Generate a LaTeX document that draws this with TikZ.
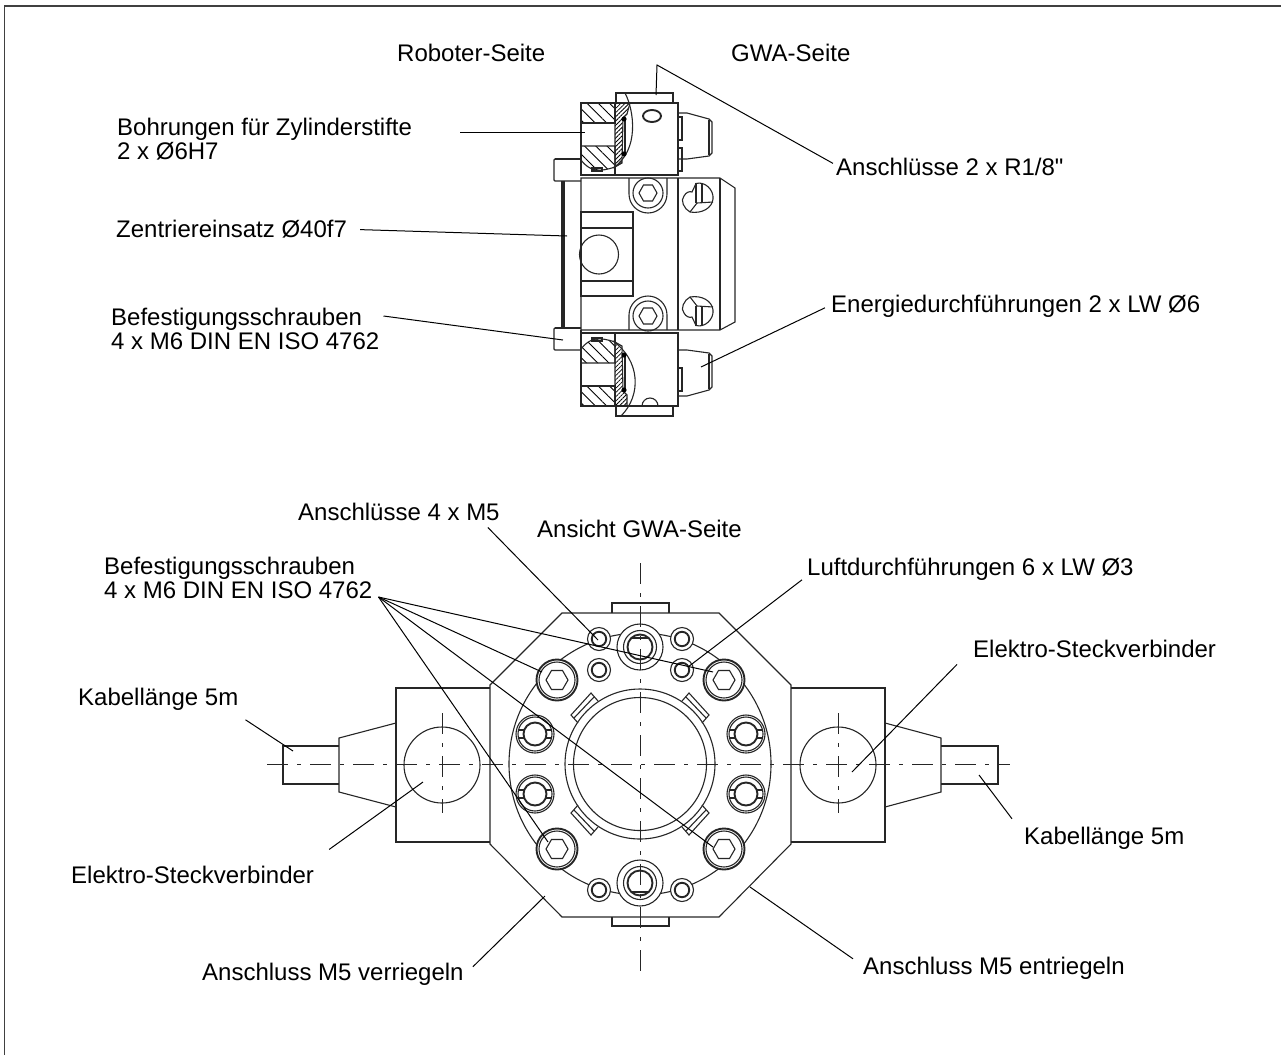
\documentclass[tikz,border=0pt]{standalone}
\usepackage{fontspec}
\setmainfont{Liberation Sans}
\newfontfamily\straightfont{Liberation Sans}
\usetikzlibrary{patterns.meta}
\tikzset{
  part/.style={line width=1.1pt,black!85},
  heavy/.style={line width=1.9pt,black!85},
  leader/.style={line width=1pt,black},
  axis/.style={line width=1pt,black!85,dash pattern=on 21pt off 9pt on 4pt off 9pt},
  label/.style={inner sep=0pt,anchor=base west,align=left,font=\fontsize{24}{24.6}\selectfont},
  twolabel/.style={inner sep=0pt,anchor=west,align=left,font=\fontsize{24}{24.6}\selectfont},
  coarse/.style={pattern={Lines[angle=-45,distance=8pt,line width=.9pt]}},
  fine/.style={pattern={Lines[angle=45,distance=3pt,line width=.8pt]}}
}
\begin{document}
\begin{tikzpicture}[x=1pt,y=-1pt]
\useasboundingbox (0,0) rectangle (1281,1055);

% frame
\draw[line width=1.5pt,black!75] (4.5,1055) -- (4.5,6) -- (1281,6);

% side view, body
\draw[part] (581,178) -- (720,178) -- (735,188) -- (735,322) -- (720,330) -- (581,330) -- cycle;
\draw[part] (678,178) -- (678,330);
\draw[part] (720,178) -- (720,330);
\draw[part] (581,212) rectangle (633,296);
\draw[part] (581,228) -- (633,228);
\draw[part] (581,281) -- (633,281);
\draw[part] (599,254.5) circle [radius=19.5];

% side view, flange and bolt heads
\draw[part] (562,181) -- (562,328);
\draw[heavy] (564,181) -- (564,328);
\draw[part] (581,159) -- (555,159) -- (554,160) -- (554,180) -- (555,181) -- (581,181);
\draw[heavy] (555,159) -- (581,159);
\draw[part] (581,350) -- (555,350) -- (554,349) -- (554,329) -- (555,328) -- (581,328);
\draw[heavy] (555,328) -- (581,328);

% side view, upper block
\draw[part] (581,175) -- (581,103) -- (678,103) -- (678,175) -- cycle;
\draw[part] (616,103) -- (616,93) -- (673,93) -- (673,103);
\draw[part,coarse] (581,103) rectangle (615,123);
\draw[part,coarse] (581,146) -- (615,146) -- (615,167) .. controls (600,172) and (590,172) .. (581,160) -- cycle;
\draw[part,fine] (615,103) -- (630,103) -- (627,114) -- (623,118) -- (622,163) -- (615,167) -- cycle;
\draw[part] (625,93) .. controls (634,110) and (640,150) .. (613,168);
\draw[part] (615,167) -- (615,175);
\draw[part] (625,119) -- (625,154);
\draw[fill=black] (624,119) circle [radius=2.3];
\draw[fill=black] (624,154) circle [radius=2.3];
\draw[part] (592,168) rectangle (602,171);
\draw[heavy] (652,116) ellipse [x radius=9,y radius=6];

% side view, lower block
\draw[part] (581,330) -- (581,406) -- (678,406) -- (678,333) -- (581,333);
\draw[part] (616,406) -- (616,416) -- (673,416) -- (673,406);
\draw[part,coarse] (581,509-103) rectangle (615,509-123);
\draw[part,coarse] (581,509-146) -- (615,509-146) -- (615,509-167) .. controls (600,509-172) and (590,509-172) .. (581,509-160) -- cycle;
\draw[part,fine] (615,509-103) -- (627,509-103) -- (627,509-114) -- (623,509-118) -- (622,509-163) -- (615,509-167) -- cycle;
\draw[part] (621,416) .. controls (642,395) and (640,360) .. (613,509-168);
\draw[part] (615,333) -- (615,342);
\draw[part] (625,509-119) -- (625,509-154);
\draw[fill=black] (624,509-119) circle [radius=2.3];
\draw[fill=black] (624,509-154) circle [radius=2.3];
\draw[part] (592,509-168) rectangle (602,509-171);
\draw[part] (642,406) arc [start angle=180,end angle=360,radius=8];

% side view, nozzles
\draw[part] (679,113) -- (687,113) -- (709,119) -- (712,122) -- (712,153) -- (709,156) -- (687,159) -- (679,159);
\draw[part] (709,120) -- (709,155);
\draw[part] (678,117) rectangle (682,140);
\draw[part] (678,148) rectangle (682,171);
\draw[part] (679,509-113) -- (687,509-113) -- (709,509-119) -- (712,509-122) -- (712,509-153) -- (709,509-156) -- (687,509-159) -- (679,509-159);
\draw[part] (709,509-120) -- (709,509-155);
\draw[part] (678,368) rectangle (682,391);

% side view, screws
\draw[part] (629,178) -- (629,194) arc [start angle=180,end angle=0,radius=19] -- (667,178);
\draw[part] (648,193) circle [radius=15];
\draw[part] (648,193) +(-9,0) -- +(-4.5,-8) -- +(4.5,-8) -- +(9,0) -- +(4.5,8) -- +(-4.5,8) -- cycle;
\draw[part] (629,330) -- (629,315) arc [start angle=180,end angle=360,radius=19] -- (667,330);
\draw[part] (648,316) circle [radius=15];
\draw[part] (648,316) +(-9,0) -- +(-4.5,-8) -- +(4.5,-8) -- +(9,0) -- +(4.5,8) -- +(-4.5,8) -- cycle;

% side view, round plugs
\draw[part] (696,183.5) .. controls (705,181) and (714,190) .. (713,199) .. controls (712,208) and (702,214) .. (690,212) .. controls (684,209) and (680,200) .. (684,196) .. controls (686,192) and (690,191) .. (692,192) -- cycle;
\draw[part] (696,183) -- (696,203);
\draw[part] (702,183) -- (702,202);
\draw[part] (690,212) -- (697,203) -- (713,202);
\draw[part] (696,509-183.5) .. controls (705,509-181) and (714,509-190) .. (713,509-199) .. controls (712,509-208) and (702,509-214) .. (690,509-212) .. controls (684,509-209) and (680,509-200) .. (684,509-196) .. controls (686,509-192) and (690,509-191) .. (692,509-192) -- cycle;
\draw[part] (696,509-183) -- (696,509-203);
\draw[part] (702,509-183) -- (702,509-202);
\draw[part] (690,509-212) -- (697,509-203) -- (713,509-202);

% front view, housing
\draw[part] (562,613) -- (719,613) -- (791,685) -- (791,844) -- (719,917) -- (562,917) -- (490,844) -- (490,685) -- cycle;
\draw[part] (612,613) -- (612,603) -- (669,603) -- (669,613);
\draw[part] (612,917) -- (612,926) -- (669,926) -- (669,917);

% front view, left connector
\draw[part] (490,688) -- (396,688) -- (396,842) -- (490,842);
\draw[heavy] (396,688) -- (417,688);
\draw[heavy] (396,842) -- (417,842);
\draw[part] (396,723) -- (339,738) -- (339,792) -- (396,807);
\draw[part] (339,746) -- (283,746) -- (283,784) -- (339,784);
\draw[part] (442,765) circle [radius=38];

% front view, right connector
\draw[part] (791,688) -- (885,688) -- (885,842) -- (791,842);
\draw[heavy] (885,688) -- (864,688);
\draw[heavy] (885,842) -- (864,842);
\draw[part] (885,723) -- (941,738) -- (941,792) -- (885,807);
\draw[part] (941,746) -- (998,746) -- (998,784) -- (941,784);
\draw[part] (838,765) circle [radius=38];

% front view, flange and inner ring
\draw[part] (640,764) circle [radius=131];
\draw[part] (640,764) circle [radius=75];
\draw[part] (640,764) circle [radius=66.5];

% front view, keys on the ring
\draw[part] (578,723) -- (571,715) -- (591,693) -- (598,701);
\draw[part] (574,718) -- (594,697);
\draw[part] (702,723) -- (709,715) -- (689,693) -- (682,701);
\draw[part] (706,718) -- (686,697);
\draw[part] (578,805) -- (571,813) -- (591,835) -- (598,827);
\draw[part] (574,810) -- (594,831);
\draw[part] (702,805) -- (709,813) -- (689,835) -- (682,827);
\draw[part] (706,810) -- (686,831);

% front view, large bolts
\draw[heavy,fill=white] (557,680) circle [radius=20.5];
\draw[part] (557,680) circle [radius=18];
\draw[part] (557,680) +(-11,0) -- +(-5.5,-9.5) -- +(5.5,-9.5) -- +(11,0) -- +(5.5,9.5) -- +(-5.5,9.5) -- cycle;
\draw[heavy,fill=white] (724,680) circle [radius=20.5];
\draw[part] (724,680) circle [radius=18];
\draw[part] (724,680) +(-11,0) -- +(-5.5,-9.5) -- +(5.5,-9.5) -- +(11,0) -- +(5.5,9.5) -- +(-5.5,9.5) -- cycle;
\draw[heavy,fill=white] (557,849) circle [radius=20.5];
\draw[part] (557,849) circle [radius=18];
\draw[part] (557,849) +(-11,0) -- +(-5.5,-9.5) -- +(5.5,-9.5) -- +(11,0) -- +(5.5,9.5) -- +(-5.5,9.5) -- cycle;
\draw[heavy,fill=white] (724,849) circle [radius=20.5];
\draw[part] (724,849) circle [radius=18];
\draw[part] (724,849) +(-11,0) -- +(-5.5,-9.5) -- +(5.5,-9.5) -- +(11,0) -- +(5.5,9.5) -- +(-5.5,9.5) -- cycle;

% front view, locking bolts
\draw[part,fill=white] (535,734) circle [radius=19];
\draw[part] (535,734) circle [radius=17];
\draw[heavy] (535,734) circle [radius=11.5];
\draw[part] (535-17,734-4) -- (535-11,734-4) (535-17,734+4) -- (535-11,734+4) (535+11,734-4) -- (535+17,734-4) (535+11,734+4) -- (535+17,734+4);
\draw[part,fill=white] (746,734) circle [radius=19];
\draw[part] (746,734) circle [radius=17];
\draw[heavy] (746,734) circle [radius=11.5];
\draw[part] (746-17,734-4) -- (746-11,734-4) (746-17,734+4) -- (746-11,734+4) (746+11,734-4) -- (746+17,734-4) (746+11,734+4) -- (746+17,734+4);
\draw[part,fill=white] (535,794) circle [radius=19];
\draw[part] (535,794) circle [radius=17];
\draw[heavy] (535,794) circle [radius=11.5];
\draw[part] (535-17,794-4) -- (535-11,794-4) (535-17,794+4) -- (535-11,794+4) (535+11,794-4) -- (535+17,794-4) (535+11,794+4) -- (535+17,794+4);
\draw[part,fill=white] (746,794) circle [radius=19];
\draw[part] (746,794) circle [radius=17];
\draw[heavy] (746,794) circle [radius=11.5];
\draw[part] (746-17,794-4) -- (746-11,794-4) (746-17,794+4) -- (746-11,794+4) (746+11,794-4) -- (746+17,794-4) (746+11,794+4) -- (746+17,794+4);

% front view, small ports
\draw[part,fill=white] (599,639) circle [radius=11.5];
\draw[heavy] (599,639) circle [radius=7.2];
\draw[part,fill=white] (682,639) circle [radius=11.5];
\draw[heavy] (682,639) circle [radius=7.2];
\draw[part,fill=white] (599,670) circle [radius=11.5];
\draw[heavy] (599,670) circle [radius=7.2];
\draw[part,fill=white] (682,670) circle [radius=11.5];
\draw[heavy] (682,670) circle [radius=7.2];
\draw[part,fill=white] (599,890) circle [radius=11.5];
\draw[heavy] (599,890) circle [radius=7.2];
\draw[part,fill=white] (682,890) circle [radius=11.5];
\draw[heavy] (682,890) circle [radius=7.2];

% front view, centre ports
\draw[part,fill=white] (640,647) circle [radius=23];
\draw[part] (640,647) circle [radius=16.5];
\draw[heavy] (640,647) circle [radius=12.5];
\draw[heavy] (640-9,647-9) -- (640+9,647-9);
\draw[part,fill=white] (640,883) circle [radius=23];
\draw[part] (640,883) circle [radius=16.5];
\draw[heavy] (640,883) circle [radius=12.5];
\draw[heavy] (640-9,883+9) -- (640+9,883+9);

% centre lines
\draw[axis] (267,764) -- (1010,764);
\draw[axis] (640,563) -- (640,971);
\draw[axis] (442,713) -- (442,813);
\draw[axis] (838,713) -- (838,813);

% labels
\node[label] (roboter) at (397,61) {Roboter-Seite};
\node[label] (gwa) at (731,61) {GWA-Seite};
\node[twolabel] (bohrungen) at (117,139) {Bohrungen für Zylinderstifte\\2 x Ø6H7};
\node[label] (zentrier) at (116,237) {Zentriereinsatz Ø40f7};
\node[twolabel] (befestA) at (111,329) {Befestigungsschrauben\\4 x M6 DIN EN ISO 4762};
\node[label] (anschlA) at (836,175) {Anschlüsse 2 x R1/8{\straightfont"}};
\node[label] (energie) at (831,312) {Energiedurchführungen 2 x LW Ø6};
\node[label] (anschlB) at (298,520) {Anschlüsse 4 x M5};
\node[label] (ansicht) at (537,537) {Ansicht GWA-Seite};
\node[twolabel] (befestB) at (104,578) {Befestigungsschrauben\\4 x M6 DIN EN ISO 4762};
\node[label] (luft) at (807,575) {Luftdurchführungen 6 x LW Ø3};
\node[label] (steckR) at (973,657) {Elektro-Steckverbinder};
\node[label] (kabelL) at (78,705) {Kabellänge 5m};
\node[label] (kabelR) at (1024,844) {Kabellänge 5m};
\node[label] (steckL) at (71,883) {Elektro-Steckverbinder};
\node[label] (verrieg) at (202,980) {Anschluss M5 verriegeln};
\node[label] (entrieg) at (863,974) {Anschluss M5 entriegeln};

% leader ends
\coordinate (tipBohr) at (585,132);
\coordinate (tipZentr) at (567,236);
\coordinate (tipBefA) at (563,340);
\coordinate (elbowAn) at (657,65);
\coordinate (tipAnA) at (656,95);
\coordinate (tipEnergie) at (701,367);
\coordinate (tipAnB) at (598,640);
\coordinate (tipLuft) at (688,667);
\coordinate (tipBefB1) at (713,672);
\coordinate (tipBefB2) at (542,672);
\coordinate (tipBefB3) at (548,842);
\coordinate (tipBefB4) at (713,847);
\coordinate (tipSteckR) at (852,772);
\coordinate (tipKabelL) at (293,751);
\coordinate (tipSteckL) at (423,782);
\coordinate (tipKabelR) at (979,775);
\coordinate (tipVerr) at (545,896);
\coordinate (tipEntr) at (750,887);

% leaders
\draw[leader] ([xshift=48pt,yshift=7pt]bohrungen.east) -- (tipBohr);
\draw[leader] ([xshift=13pt,yshift=-1pt]zentrier.east) -- (tipZentr);
\draw[leader] ([xshift=4pt,yshift=13pt]befestA.east) -- (tipBefA);
\draw[leader] ([yshift=-6pt,xshift=-3pt]anschlA.north west) -- (elbowAn) -- (tipAnA);
\draw[leader] ([xshift=-6pt,yshift=-2pt]energie.west) -- (tipEnergie);
\draw[leader] ([xshift=-12pt,yshift=-7pt]anschlB.south east) -- (tipAnB);
\draw[leader] ([xshift=-5pt,yshift=-11pt]luft.west) -- (tipLuft);
\draw[leader] ([xshift=6pt,yshift=-19pt]befestB.east) -- (tipBefB1);
\draw[leader] ([xshift=6pt,yshift=-19pt]befestB.east) -- (tipBefB2);
\draw[leader] ([xshift=6pt,yshift=-19pt]befestB.east) -- (tipBefB3);
\draw[leader] ([xshift=6pt,yshift=-19pt]befestB.east) -- (tipBefB4);
\draw[leader] ([xshift=-16pt,yshift=-16pt]steckR.west) -- (tipSteckR);
\draw[leader] ([xshift=7pt,yshift=-21pt]kabelL.east) -- (tipKabelL);
\draw[leader] ([xshift=15pt,yshift=25pt]steckL.east) -- (tipSteckL);
\draw[leader] ([xshift=-12pt,yshift=19pt]kabelR.west) -- (tipKabelR);
\draw[leader] ([xshift=9pt,yshift=7pt]verrieg.east) -- (tipVerr);
\draw[leader] ([xshift=-10pt,yshift=9pt]entrieg.west) -- (tipEntr);
\end{tikzpicture}
\end{document}
